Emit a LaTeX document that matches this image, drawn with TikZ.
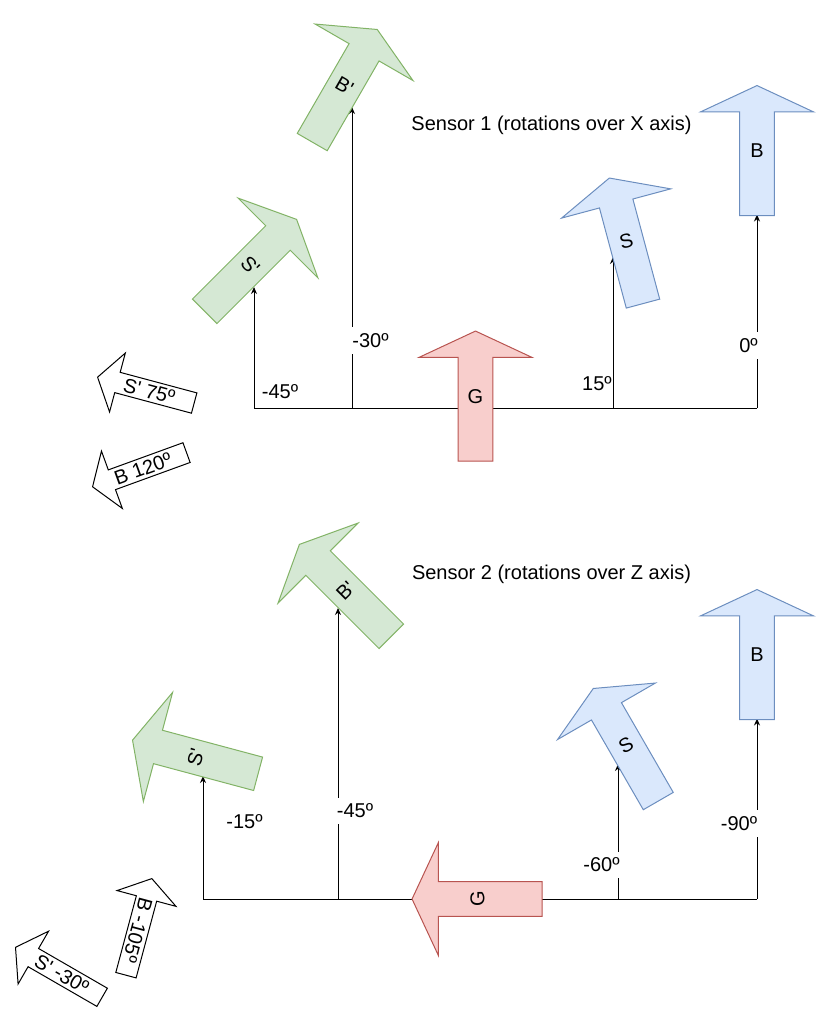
\documentclass[tikz,border=0pt]{standalone}
\usepackage{fontspec}
\setmainfont{Liberation Sans}
\usepackage{xcolor}
\usepackage{tikz}
\usetikzlibrary{arrows.meta,shapes.arrows}

\definecolor{bluefill}{HTML}{DAE8FC}
\definecolor{blueline}{HTML}{6C8EBF}
\definecolor{greenfill}{HTML}{D5E8D4}
\definecolor{greenline}{HTML}{82B366}
\definecolor{redfill}{HTML}{F8CECC}
\definecolor{redline}{HTML}{B85450}

\begin{document}
\begin{tikzpicture}[
    x=0.5pt, y=-0.5pt,
    blk/.style={single arrow, draw, line width=0.5pt, inner sep=0pt, anchor=tip,
      text width=16.8pt, text height=10pt, text depth=6.8pt, align=center,
      minimum height=65pt, minimum width=56pt,
      single arrow head extend=19.6pt, single arrow tip angle=130,
      shape border rotate=90},
    bluearr/.style={blk, fill=bluefill, draw=blueline},
    greenarr/.style={blk, fill=greenfill, draw=greenline},
    redarr/.style={blk, fill=redfill, draw=redline},
    note/.style={single arrow, draw, fill=white, line width=0.5pt, inner sep=0pt, anchor=tip,
      text height=8.6pt, text depth=1.4pt,
      minimum height=50pt, minimum width=30pt,
      single arrow head extend=10pt, single arrow tip angle=112,
      shape border rotate=180},
    tag/.style={fill=white, inner xsep=1pt, inner ysep=3pt},
    arr/.style={-{Stealth[length=3.5pt,width=3pt]}, line width=0.5pt}
  ]
    \useasboundingbox (0,0) rectangle (815,1023);

    \coordinate (ta) at (254,408);
    \coordinate (tb) at (352,408);
    \coordinate (tc) at (613,408);
    \coordinate (td) at (757,408);
    \coordinate (ea) at (254,287);
    \coordinate (eb) at (352,107);
    \coordinate (ec) at (613,257);
    \coordinate (ed) at (757,214.5);
    \draw[line width=0.5pt] (ta) -- (td);
    \draw[arr] (ta) -- (ea);
    \draw[arr] (tb) -- (eb);
    \draw[arr] (tc) -- (ec);
    \draw[arr] (td) -- (ed);

    \coordinate (ba) at (203,899);
    \coordinate (bb) at (338,899);
    \coordinate (bc) at (618,899);
    \coordinate (bd) at (757,899);
    \coordinate (fa) at (203,776);
    \coordinate (fb) at (338,608);
    \coordinate (fc) at (618,764);
    \coordinate (fd) at (757,718.5);
    \draw[line width=0.5pt] (ba) -- (bd);
    \draw[arr] (ba) -- (fa);
    \draw[arr] (bb) -- (fb);
    \draw[arr] (bc) -- (fc);
    \draw[arr] (bd) -- (fd);

    \node[redarr] (G1) at (475.5,330.5) {G};
    \node[bluearr] (B1) at (757,85) {B};
    \node[bluearr, rotate=15] (S1) at (609.2,177.5) {S};
    \node[greenarr, rotate=-45] (Sp1) at (297,219) {S\textquotesingle};
    \node[greenarr, rotate=-30] (Bp1) at (377.5,29) {B\textquotesingle};
    \node (title1) at (551.5,125) {Sensor 1 (rotations over X axis)};
    \node (la) at (280,391.5) {-45º};
    \node[tag] (lb) at (370.5,340.5) {-30º};
    \node (lc) at (597,383.5) {15º};
    \node[tag] (ld) at (748.5,345.5) {0º};
    \node[note, rotate=-15] (n1s) at (97,377) {S\textquotesingle{} 75º\hspace{4pt}};
    \node[note, rotate=20] (n1b) at (92,487) {B 120º\hspace{4pt}};

    \node[redarr, rotate=90] (G2) at (411.5,899) {G};
    \node[bluearr] (B2) at (757,589) {B};
    \node[bluearr, rotate=30] (S2) at (593,688) {S};
    \node[greenarr, rotate=75] (Sp2) at (132,740) {S\textquotesingle};
    \node[greenarr, rotate=45] (Bp2) at (299,544) {B\textquotesingle};
    \node (title2) at (551.5,574) {Sensor 2 (rotations over Z axis)};
    \node (ma) at (244.5,822) {-15º};
    \node[tag] (mb) at (355,811) {-45º};
    \node[tag] (mc) at (601.5,865) {-60º};
    \node[tag] (md) at (739,823.5) {-90º};
    \node[note, rotate=-30] (n2s) at (15,947) {S\textquotesingle{} -30º\hspace{4pt}};
    \node[note, rotate=-105] (n2b) at (152,878) {B -105º\hspace{4pt}};
\end{tikzpicture}
\end{document}
